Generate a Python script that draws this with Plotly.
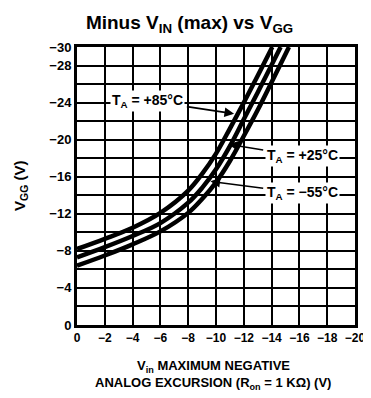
import plotly.graph_objects as go

# Data
x_85 = [0, -2, -4, -6, -8, -9, -10, -11, -12, -13, -14.05]
y_85 = [-8.2, -9.3, -10.5, -12.1, -14.5, -16.3, -18.5, -21.2, -24.0, -26.9, -30]

x_25 = [0, -2, -4, -6, -8, -9, -10, -11, -12, -13, -14.65]
y_25 = [-7.3, -8.4, -9.6, -11.0, -13.2, -14.8, -16.8, -19.3, -22.2, -25.1, -30]

x_m55 = [0, -2, -4, -6, -8, -9, -10, -11, -12, -13, -14, -15.25]
y_m55 = [-6.4, -7.5, -8.7, -10.1, -12.1, -13.6, -15.4, -17.7, -20.4, -23.2, -26.2, -30]

x_ticks = [0, -2, -4, -6, -8, -10, -12, -14, -16, -18, -20]
y_ticks = [0, -4, -8, -12, -16, -20, -24, -28, -30]
y_grid = [0, -2, -4, -6, -8, -10, -12, -14, -16, -18, -20, -22, -24, -26, -28, -30]

FONT = "Liberation Sans, Arial, sans-serif"

def fmt(v):
    return "0" if v == 0 else "\u2212" + str(abs(v))

fig = go.Figure()
for xs, ys in [(x_85, y_85), (x_25, y_25), (x_m55, y_m55)]:
    fig.add_trace(go.Scatter(x=xs, y=ys, mode="lines", line=dict(color="black", width=4.5, shape="spline"),
                             showlegend=False, hoverinfo="skip"))

fig.update_xaxes(range=[0, -20], tickvals=x_ticks, ticktext=[fmt(v) for v in x_ticks], tickangle=0,
                 automargin=False,
                 showgrid=True, gridcolor="black", gridwidth=1.5, zeroline=False,
                 showline=True, linecolor="black", linewidth=3, mirror=True, ticks="",
                 tickfont=dict(family=FONT, size=12, color="black", weight="bold"))
fig.update_yaxes(range=[0, -30], tickvals=y_ticks, ticktext=[fmt(v) for v in y_ticks],
                 automargin=False,
                 showgrid=False, zeroline=False,
                 minor=dict(tickvals=y_grid, showgrid=True, gridcolor="black", gridwidth=1.5, ticks=""),
                 showline=True, linecolor="black", linewidth=3, mirror=True, ticks="",
                 tickfont=dict(family=FONT, size=13, color="black", weight="bold"))

lab_font = dict(family=FONT, size=14, color="black", weight="bold")
annots = [
    dict(x=-11.3, y=-22.8, ax=-5.1, ay=-24.2, text="T<sub>A</sub> = +85°C"),
    dict(x=-10.9, y=-19.5, ax=-16.2, ay=-18.2, text="T<sub>A</sub> = +25°C"),
    dict(x=-9.6, y=-15.5, ax=-16.2, ay=-14.2, text="T<sub>A</sub> = \u221255°C"),
]
for a in annots:
    fig.add_annotation(x=a["x"], y=a["y"], ax=a["ax"], ay=a["ay"], axref="x", ayref="y",
                       xref="x", yref="y", text=a["text"], showarrow=True, arrowhead=2,
                       arrowsize=1.2, arrowwidth=1.6, arrowcolor="black", bgcolor="white",
                       font=lab_font, borderpad=1, standoff=0, startstandoff=2)

fig.add_annotation(x=-0.205, y=0.5, xref="paper", yref="paper", text="V<sub>GG</sub> (V)",
                   xanchor="center", yanchor="middle",
                   textangle=-90, showarrow=False, font=dict(family=FONT, size=15, color="black", weight="bold"))
fig.add_annotation(x=0.49, y=-0.15, xref="paper", yref="paper", text="V<sub>in</sub> MAXIMUM NEGATIVE",
                   xanchor="center", yanchor="middle",
                   showarrow=False, font=dict(family=FONT, size=13, color="black", weight="bold"))
fig.add_annotation(x=0.49, y=-0.212, xref="paper", yref="paper",
                   text="ANALOG EXCURSION (R<sub>on</sub> = 1 K\u03a9) (V)",
                   xanchor="center", yanchor="middle",
                   showarrow=False, font=dict(family=FONT, size=13, color="black", weight="bold"))

# page body has an 8px default margin; compensate so the chart lands where the reference has it
fig.update_layout(
    width=363, height=390,
    margin=dict(l=69, r=16, t=39, b=73),
    paper_bgcolor="white", plot_bgcolor="white",
    title=dict(text="Minus V<sub>IN</sub> (max) vs V<sub>GG</sub>", x=0.5, xanchor="center",
               y=1 - 14 / 390, yanchor="middle", yref="container",
               font=dict(family=FONT, size=19, color="black", weight="bold")),
)

fig.write_html("out.html")
